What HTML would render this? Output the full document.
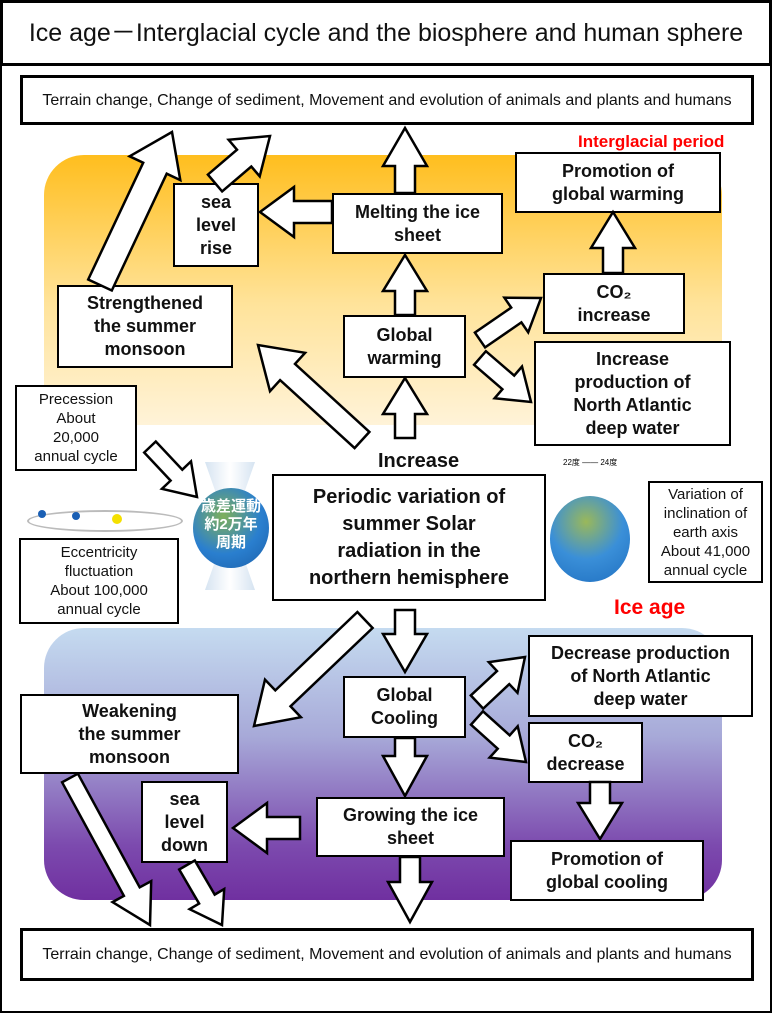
<!DOCTYPE html>
<html><head><meta charset="utf-8"><style>
html,body{margin:0;padding:0;}
body{width:772px;height:1014px;position:relative;overflow:hidden;background:#fff;font-family:"Liberation Sans","Noto Sans CJK JP",sans-serif;}
.frame{position:absolute;left:0;top:0;width:768px;height:1009px;border:2px solid #000;}
.panel{position:absolute;border-radius:40px;}
.b{position:absolute;box-sizing:border-box;border:2px solid #000;background:#fff;display:flex;align-items:center;justify-content:center;text-align:center;font-weight:bold;font-size:18px;line-height:23px;color:#111;}
.t{position:absolute;font-weight:bold;white-space:nowrap;}
svg{position:absolute;left:0;top:0;}
</style></head><body>
<div class="frame"></div>
<div class="b" style="left:0;top:0;width:772px;height:66px;border-width:3px;font-size:25px;font-weight:normal;">Ice age－Interglacial cycle and the biosphere and human sphere</div>
<div class="panel" style="left:44px;top:155px;width:678px;height:270px;background:linear-gradient(#FFBE1E,#FFE39A 55%,#FFF3D8);"></div>
<div class="panel" style="left:44px;top:628px;width:678px;height:272px;background:linear-gradient(#C5DBF0,#A7A9D8 40%,#7C4AAE 80%,#7030A0);"></div>

<div class="b" style="left:20px;top:75px;width:734px;height:50px;border-width:3px;font-size:16px;font-weight:normal;">Terrain change, Change of sediment, Movement and evolution of animals and plants and humans</div>
<div class="b" style="left:20px;top:928px;width:734px;height:53px;border-width:3px;font-size:16px;font-weight:normal;">Terrain change, Change of sediment, Movement and evolution of animals and plants and humans</div>

<div class="t" style="left:578px;top:132px;color:#f00;font-size:17px;">Interglacial period</div>
<div class="t" style="left:614px;top:596px;color:#f00;font-size:21px;">Ice age</div>
<div class="t" style="left:378px;top:450px;color:#111;font-size:20px;">Increase</div>

<div style="position:absolute;left:205px;top:462px;width:50px;height:128px;background:linear-gradient(90deg,#cde,#fff,#cde);clip-path:polygon(0 0,100% 0,55% 50%,100% 100%,0 100%,45% 50%);opacity:.8"></div>
<div style="position:absolute;left:193px;top:488px;width:76px;height:80px;border-radius:50%;background:radial-gradient(circle at 40% 35%,#7fb05a,#2a7fcf 55%,#1b5fa8);"></div>
<div class="t" style="left:197px;top:498px;color:#fff;font-size:15px;line-height:18px;text-align:center;width:68px;">歳差運動<br>約2万年<br>周期</div>
<div style="position:absolute;left:27px;top:510px;width:152px;height:18px;border:2px solid #bbb;border-radius:50%;"></div>
<div style="position:absolute;left:38px;top:510px;width:8px;height:8px;border-radius:50%;background:#1a5fb4;"></div>
<div style="position:absolute;left:72px;top:512px;width:8px;height:8px;border-radius:50%;background:#1a5fb4;"></div>
<div style="position:absolute;left:112px;top:514px;width:10px;height:10px;border-radius:50%;background:#f4e000;"></div>
<div style="position:absolute;left:550px;top:496px;width:80px;height:86px;border-radius:50%;background:radial-gradient(circle at 45% 30%,#9ab85a,#3a8fd8 50%,#1f6fc0);"></div>
<div class="t" style="left:563px;top:457px;font-size:8px;font-weight:normal;">22度 —— 24度</div>

<div class="b" style="left:515px;top:152px;width:206px;height:61px;">Promotion of<br>global warming</div>
<div class="b" style="left:173px;top:183px;width:86px;height:84px;">sea<br>level<br>rise</div>
<div class="b" style="left:332px;top:193px;width:171px;height:61px;">Melting the ice<br>sheet</div>
<div class="b" style="left:57px;top:285px;width:176px;height:83px;">Strengthened<br>the summer<br>monsoon</div>
<div class="b" style="left:343px;top:315px;width:123px;height:63px;">Global<br>warming</div>
<div class="b" style="left:543px;top:273px;width:142px;height:61px;">CO₂<br>increase</div>
<div class="b" style="left:534px;top:341px;width:197px;height:105px;">Increase<br>production of<br>North Atlantic<br>deep water</div>
<div class="b" style="left:15px;top:385px;width:122px;height:86px;font-weight:normal;font-size:15px;line-height:19px;">Precession<br>About<br>20,000<br>annual cycle</div>
<div class="b" style="left:272px;top:474px;width:274px;height:127px;font-size:20px;line-height:27px;">Periodic variation of<br>summer Solar<br>radiation in the<br>northern hemisphere</div>
<div class="b" style="left:19px;top:538px;width:160px;height:86px;font-weight:normal;font-size:15px;line-height:19px;">Eccentricity<br>fluctuation<br>About 100,000<br>annual cycle</div>
<div class="b" style="left:648px;top:481px;width:115px;height:102px;font-weight:normal;font-size:15px;line-height:19px;">Variation of<br>inclination of<br>earth axis<br>About 41,000<br>annual cycle</div>
<div class="b" style="left:528px;top:635px;width:225px;height:82px;">Decrease production<br>of North Atlantic<br>deep water</div>
<div class="b" style="left:343px;top:676px;width:123px;height:62px;">Global<br>Cooling</div>
<div class="b" style="left:528px;top:722px;width:115px;height:61px;">CO₂<br>decrease</div>
<div class="b" style="left:20px;top:694px;width:219px;height:80px;">Weakening<br>the summer<br>monsoon</div>
<div class="b" style="left:141px;top:781px;width:87px;height:82px;">sea<br>level<br>down</div>
<div class="b" style="left:316px;top:797px;width:189px;height:60px;">Growing the ice<br>sheet</div>
<div class="b" style="left:510px;top:840px;width:194px;height:61px;">Promotion of<br>global cooling</div>

<svg id="s" width="772" height="1014"></svg>
<script>
var A=[
[100,285,172,132,26,56,40],
[215,183,270,136,22,48,34],
[405,193,405,128,20,44,38],
[332,212,260,212,22,50,34],
[405,315,405,255,20,44,36],
[613,273,613,212,20,44,36],
[480,340,541,298,18,42,30],
[480,358,531,402,18,42,30],
[362,440,258,345,22,52,40],
[405,438,405,378,20,44,36],
[150,447,197,497,16,40,30],
[405,610,405,672,20,44,38],
[365,620,254,726,22,52,40],
[477,702,525,657,18,42,30],
[477,718,526,762,18,42,30],
[600,782,600,839,20,44,36],
[405,738,405,796,20,44,40],
[300,828,233,828,22,50,34],
[410,857,410,922,20,44,40],
[70,778,150,925,18,44,38],
[187,865,222,925,18,40,30]];
var h='';
A.forEach(function(a){var x1=a[0],y1=a[1],x2=a[2],y2=a[3],w=a[4]/2,H=a[5]/2,L=a[6];
var dx=x2-x1,dy=y2-y1,d=Math.hypot(dx,dy),ux=dx/d,uy=dy/d,px=-uy,py=ux;
var bx=x2-ux*L,by=y2-uy*L;
var p=[[x1+px*w,y1+py*w],[bx+px*w,by+py*w],[bx+px*H,by+py*H],[x2,y2],[bx-px*H,by-py*H],[bx-px*w,by-py*w],[x1-px*w,y1-py*w]];
h+='<polygon points="'+p.map(function(q){return q[0].toFixed(1)+','+q[1].toFixed(1)}).join(' ')+'" fill="#fff" stroke="#000" stroke-width="2.5" stroke-linejoin="miter"/>';});
document.getElementById('s').innerHTML=h;
</script>
</body></html>
